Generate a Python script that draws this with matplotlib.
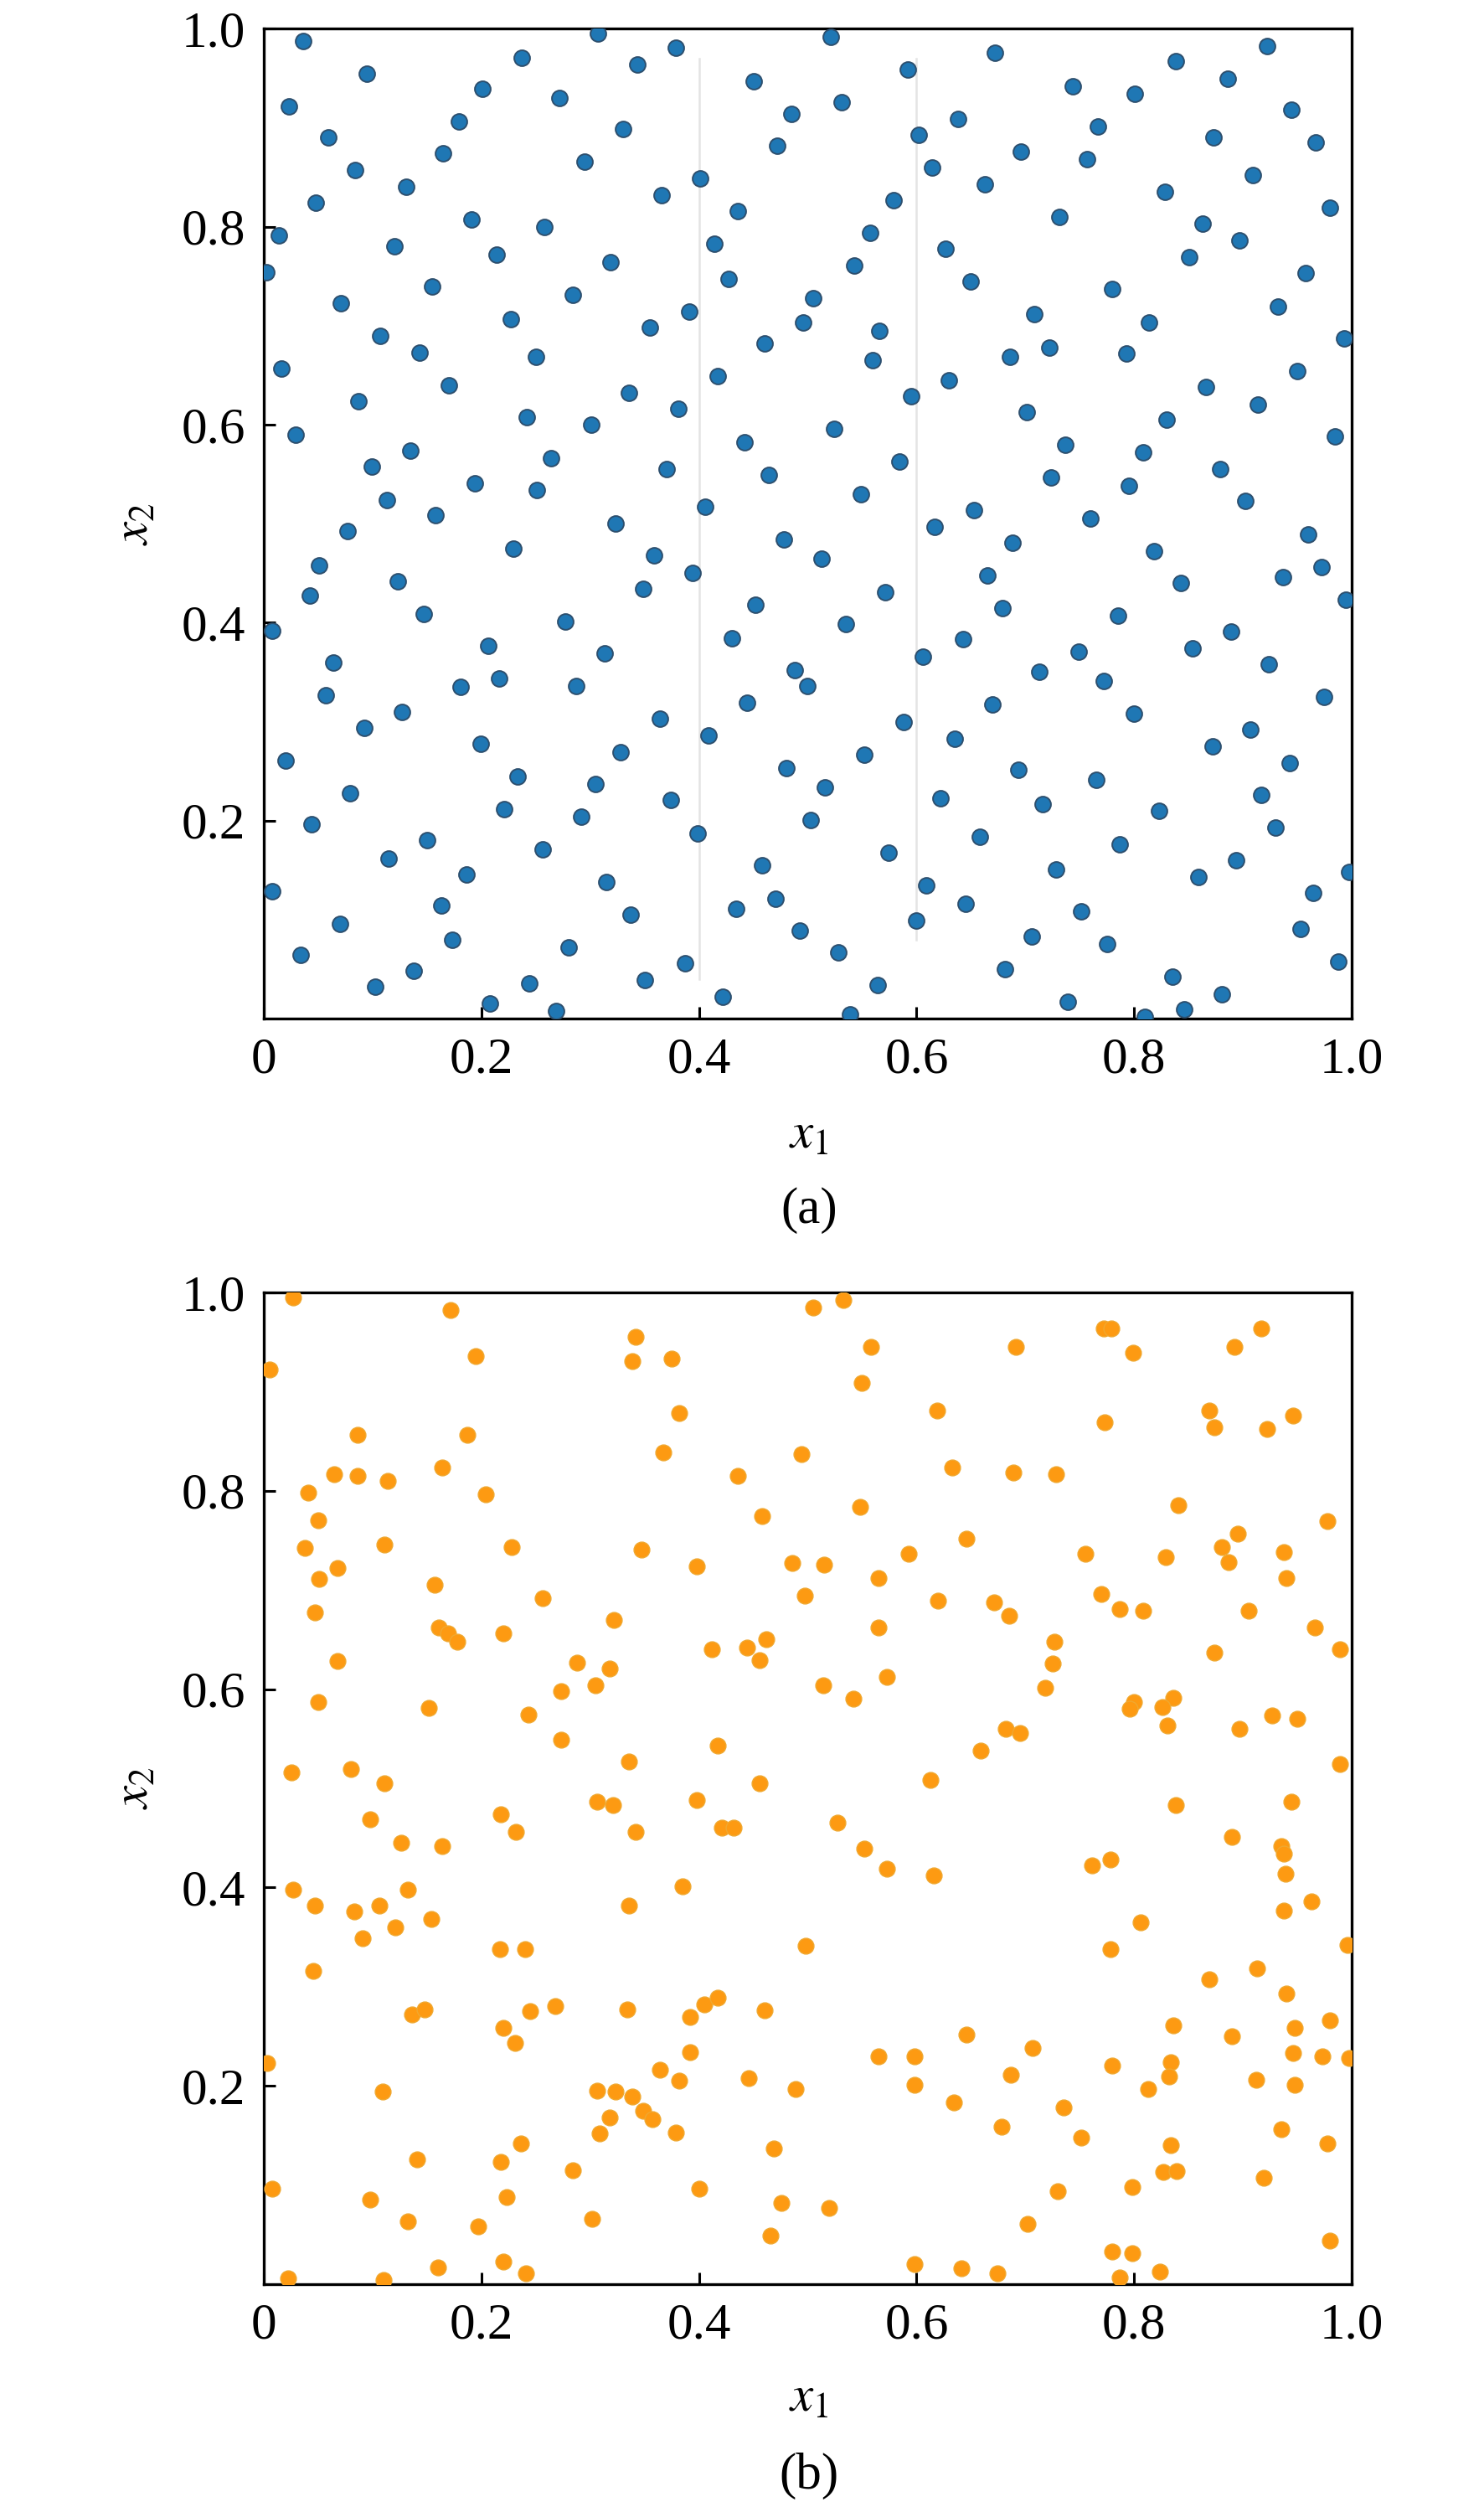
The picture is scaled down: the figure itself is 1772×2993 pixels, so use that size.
import numpy as np
import matplotlib.pyplot as plt

# === Point sets (x1, x2) ===
# (a) low-discrepancy sample
pts_a = [
    (0.036, 0.988), (0.095, 0.955), (0.023, 0.922), (0.059, 0.890), (0.084, 0.857), (0.048, 0.824),
    (0.014, 0.791), (0.002, 0.754), (0.120, 0.780), (0.131, 0.840), (0.165, 0.874), (0.179, 0.906),
    (0.201, 0.939), (0.237, 0.971), (0.307, 0.995), (0.272, 0.930), (0.343, 0.964), (0.379, 0.981),
    (0.330, 0.899), (0.295, 0.866), (0.191, 0.807), (0.258, 0.800), (0.214, 0.772), (0.319, 0.764),
    (0.155, 0.740), (0.071, 0.723), (0.284, 0.731), (0.227, 0.707), (0.355, 0.698), (0.391, 0.714),
    (0.107, 0.690), (0.143, 0.673), (0.250, 0.669), (0.401, 0.849), (0.366, 0.832), (0.450, 0.947),
    (0.485, 0.914), (0.472, 0.882), (0.436, 0.816), (0.414, 0.783), (0.427, 0.747), (0.505, 0.728),
    (0.496, 0.703), (0.460, 0.682),
    (0.521, 0.992), (0.592, 0.959), (0.531, 0.926), (0.602, 0.893), (0.614, 0.860), (0.579, 0.827),
    (0.557, 0.794), (0.543, 0.761), (0.566, 0.695), (0.560, 0.665), (0.672, 0.976), (0.638, 0.909),
    (0.696, 0.876), (0.744, 0.942), (0.801, 0.934), (0.838, 0.967), (0.922, 0.983), (0.886, 0.950),
    (0.945, 0.918), (0.873, 0.890), (0.967, 0.885), (0.767, 0.901), (0.757, 0.868), (0.663, 0.843),
    (0.909, 0.852), (0.828, 0.835), (0.731, 0.810), (0.980, 0.819), (0.863, 0.803), (0.897, 0.786),
    (0.627, 0.778), (0.851, 0.769), (0.650, 0.745), (0.780, 0.737), (0.958, 0.753), (0.932, 0.719),
    (0.708, 0.712), (0.814, 0.703), (0.993, 0.687), (0.722, 0.678), (0.793, 0.672), (0.686, 0.669),
    (0.016, 0.657), (0.170, 0.640), (0.087, 0.624), (0.029, 0.590), (0.242, 0.608), (0.301, 0.600),
    (0.336, 0.632), (0.381, 0.616), (0.417, 0.649), (0.135, 0.574), (0.099, 0.558), (0.264, 0.566),
    (0.194, 0.541), (0.251, 0.534), (0.370, 0.555), (0.442, 0.582), (0.464, 0.549), (0.113, 0.524),
    (0.158, 0.509), (0.077, 0.493), (0.406, 0.517), (0.323, 0.500), (0.229, 0.475), (0.359, 0.468),
    (0.478, 0.484), (0.051, 0.458), (0.123, 0.442), (0.394, 0.450), (0.349, 0.434), (0.042, 0.427),
    (0.147, 0.409), (0.452, 0.418), (0.277, 0.401), (0.008, 0.392), (0.206, 0.377), (0.313, 0.369),
    (0.430, 0.384), (0.064, 0.360), (0.488, 0.352), (0.500, 0.336), (0.216, 0.344), (0.181, 0.335),
    (0.287, 0.336),
    (0.630, 0.645), (0.595, 0.629), (0.866, 0.638), (0.950, 0.654), (0.914, 0.620), (0.701, 0.613),
    (0.830, 0.605), (0.524, 0.596), (0.985, 0.588), (0.737, 0.580), (0.808, 0.572), (0.584, 0.563),
    (0.879, 0.555), (0.724, 0.547), (0.795, 0.538), (0.549, 0.530), (0.902, 0.523), (0.653, 0.514),
    (0.617, 0.497), (0.760, 0.505), (0.960, 0.489), (0.688, 0.481), (0.818, 0.472), (0.513, 0.465),
    (0.972, 0.456), (0.937, 0.446), (0.665, 0.448), (0.843, 0.440), (0.571, 0.431), (0.995, 0.423),
    (0.679, 0.415), (0.785, 0.407), (0.535, 0.399), (0.889, 0.391), (0.643, 0.383), (0.749, 0.371),
    (0.854, 0.374), (0.606, 0.366), (0.924, 0.358), (0.713, 0.350), (0.772, 0.341),
    (0.057, 0.327), (0.127, 0.310), (0.092, 0.294), (0.020, 0.261), (0.199, 0.278), (0.364, 0.303),
    (0.444, 0.319), (0.409, 0.286), (0.328, 0.269), (0.233, 0.245), (0.305, 0.237), (0.480, 0.253),
    (0.079, 0.228), (0.374, 0.221), (0.221, 0.212), (0.292, 0.204), (0.044, 0.196), (0.399, 0.187),
    (0.503, 0.201), (0.150, 0.180), (0.256, 0.171), (0.115, 0.162), (0.186, 0.146), (0.458, 0.155),
    (0.008, 0.129), (0.315, 0.138), (0.163, 0.114), (0.470, 0.121), (0.434, 0.111), (0.337, 0.105),
    (0.070, 0.096), (0.493, 0.089), (0.173, 0.080), (0.280, 0.072), (0.034, 0.064), (0.387, 0.056),
    (0.138, 0.048), (0.244, 0.036), (0.350, 0.039), (0.102, 0.032), (0.422, 0.022), (0.208, 0.015),
    (0.269, 0.008),
    (0.975, 0.325), (0.670, 0.317), (0.800, 0.308), (0.588, 0.300), (0.635, 0.283), (0.907, 0.292),
    (0.872, 0.275), (0.552, 0.267), (0.943, 0.258), (0.694, 0.251), (0.765, 0.241), (0.516, 0.234),
    (0.622, 0.223), (0.716, 0.217), (0.917, 0.226), (0.823, 0.210), (0.658, 0.184), (0.930, 0.193),
    (0.787, 0.176), (0.574, 0.168), (0.894, 0.160), (0.728, 0.151), (0.859, 0.143), (0.998, 0.148),
    (0.609, 0.135), (0.965, 0.127), (0.645, 0.116), (0.751, 0.108), (0.600, 0.099), (0.953, 0.091),
    (0.706, 0.083), (0.775, 0.075), (0.528, 0.067), (0.988, 0.058), (0.681, 0.050), (0.835, 0.042),
    (0.564, 0.034), (0.881, 0.025), (0.739, 0.017), (0.846, 0.009), (0.539, 0.004), (0.810, 0.002),
]

# (b) plain random sample
pts_b = [
    (0.027, 0.995), (0.172, 0.982), (0.005, 0.922), (0.195, 0.936), (0.342, 0.955), (0.339, 0.931),
    (0.375, 0.933), (0.505, 0.985), (0.382, 0.878), (0.086, 0.856), (0.187, 0.856), (0.367, 0.839),
    (0.494, 0.837), (0.065, 0.817), (0.086, 0.815), (0.114, 0.810), (0.164, 0.823), (0.436, 0.815),
    (0.041, 0.798), (0.204, 0.796), (0.458, 0.774), (0.050, 0.770), (0.038, 0.742), (0.111, 0.746),
    (0.228, 0.743), (0.347, 0.741), (0.398, 0.724), (0.486, 0.727), (0.068, 0.722), (0.051, 0.711),
    (0.157, 0.705), (0.256, 0.692), (0.497, 0.694), (0.047, 0.677), (0.322, 0.670),
    (0.533, 0.992), (0.772, 0.964), (0.779, 0.964), (0.917, 0.964), (0.558, 0.945), (0.691, 0.945),
    (0.799, 0.939), (0.892, 0.945), (0.550, 0.909), (0.619, 0.881), (0.773, 0.869), (0.869, 0.881),
    (0.874, 0.864), (0.922, 0.862), (0.946, 0.876), (0.633, 0.823), (0.689, 0.818), (0.728, 0.817),
    (0.548, 0.784), (0.841, 0.785), (0.978, 0.769), (0.646, 0.752), (0.895, 0.757), (0.593, 0.736),
    (0.755, 0.736), (0.829, 0.733), (0.881, 0.743), (0.887, 0.728), (0.938, 0.738), (0.515, 0.725),
    (0.565, 0.712), (0.940, 0.712), (0.620, 0.689), (0.671, 0.687), (0.770, 0.696), (0.787, 0.681),
    (0.808, 0.679), (0.905, 0.679), (0.685, 0.674),
    (0.161, 0.662), (0.169, 0.656), (0.178, 0.648), (0.220, 0.656), (0.068, 0.628), (0.288, 0.627),
    (0.318, 0.621), (0.412, 0.640), (0.444, 0.642), (0.462, 0.650), (0.456, 0.629), (0.273, 0.598),
    (0.305, 0.604), (0.050, 0.587), (0.152, 0.581), (0.243, 0.574), (0.273, 0.549), (0.417, 0.543),
    (0.336, 0.527), (0.025, 0.516), (0.080, 0.519), (0.111, 0.505), (0.456, 0.505), (0.306, 0.486),
    (0.321, 0.483), (0.398, 0.488), (0.218, 0.474), (0.098, 0.469), (0.421, 0.460), (0.432, 0.460),
    (0.232, 0.456), (0.342, 0.456), (0.126, 0.445), (0.164, 0.442), (0.027, 0.398), (0.132, 0.398),
    (0.385, 0.401), (0.047, 0.382), (0.083, 0.376), (0.106, 0.382), (0.336, 0.382), (0.154, 0.368),
    (0.121, 0.360), (0.091, 0.349), (0.217, 0.338), (0.240, 0.338), (0.498, 0.341),
    (0.565, 0.662), (0.727, 0.648), (0.725, 0.626), (0.966, 0.662), (0.874, 0.637), (0.989, 0.640),
    (0.514, 0.604), (0.573, 0.612), (0.542, 0.590), (0.718, 0.601), (0.800, 0.587), (0.796, 0.580),
    (0.836, 0.591), (0.826, 0.582), (0.831, 0.563), (0.897, 0.560), (0.927, 0.573), (0.950, 0.570),
    (0.682, 0.560), (0.695, 0.556), (0.659, 0.538), (0.989, 0.524), (0.613, 0.508), (0.838, 0.483),
    (0.945, 0.486), (0.527, 0.465), (0.890, 0.451), (0.935, 0.442), (0.938, 0.434), (0.552, 0.439),
    (0.573, 0.419), (0.616, 0.412), (0.761, 0.422), (0.778, 0.428), (0.939, 0.414), (0.963, 0.386),
    (0.938, 0.377), (0.806, 0.365), (0.778, 0.338), (0.996, 0.342),
    (0.045, 0.316), (0.136, 0.272), (0.148, 0.277), (0.245, 0.275), (0.268, 0.280), (0.220, 0.258),
    (0.231, 0.243), (0.334, 0.277), (0.392, 0.269), (0.405, 0.282), (0.417, 0.289), (0.460, 0.276),
    (0.392, 0.234), (0.364, 0.216), (0.382, 0.205), (0.446, 0.208), (0.489, 0.197), (0.003, 0.223),
    (0.109, 0.194), (0.306, 0.195), (0.323, 0.194), (0.339, 0.189), (0.349, 0.175), (0.357, 0.166),
    (0.318, 0.168), (0.309, 0.152), (0.379, 0.153), (0.236, 0.142), (0.141, 0.126), (0.218, 0.123),
    (0.284, 0.115), (0.469, 0.137), (0.008, 0.096), (0.098, 0.085), (0.223, 0.088), (0.400, 0.096),
    (0.476, 0.082), (0.132, 0.063), (0.197, 0.058), (0.302, 0.066), (0.466, 0.049), (0.160, 0.017),
    (0.220, 0.023), (0.241, 0.011), (0.022, 0.006), (0.110, 0.004),
    (0.913, 0.318), (0.869, 0.307), (0.940, 0.293), (0.980, 0.266), (0.836, 0.261), (0.890, 0.250),
    (0.948, 0.258), (0.646, 0.252), (0.707, 0.238), (0.565, 0.230), (0.598, 0.230), (0.946, 0.233),
    (0.973, 0.230), (0.998, 0.228), (0.780, 0.220), (0.834, 0.224), (0.832, 0.209), (0.813, 0.197),
    (0.687, 0.211), (0.598, 0.201), (0.912, 0.206), (0.948, 0.201), (0.634, 0.183), (0.735, 0.178),
    (0.678, 0.159), (0.751, 0.148), (0.935, 0.156), (0.978, 0.142), (0.834, 0.140), (0.827, 0.113),
    (0.839, 0.114), (0.919, 0.107), (0.798, 0.098), (0.730, 0.094), (0.520, 0.077), (0.702, 0.061),
    (0.980, 0.044), (0.780, 0.033), (0.798, 0.031), (0.598, 0.020), (0.641, 0.016), (0.674, 0.011),
    (0.824, 0.013), (0.787, 0.007),
]

x_ticks = [0, 0.2, 0.4, 0.6, 0.8, 1.0]
x_ticklabels = ["0", "0.2", "0.4", "0.6", "0.8", "1.0"]
y_ticks = [0.2, 0.4, 0.6, 0.8, 1.0]
y_ticklabels = ["0.2", "0.4", "0.6", "0.8", "1.0"]
panel_tags = ["(a)", "(b)"]

plt.rcParams['font.family'] = ['Liberation Serif', 'DejaVu Serif']
plt.rcParams['mathtext.fontset'] = 'stix'

fig = plt.figure(figsize=(8.86, 14.965), dpi=200)

# axes boxes in figure fraction: [left, bottom, width, height]
boxes = [[0.1778, 0.5937, 0.7330, 0.3948],
         [0.1778, 0.0889, 0.7330, 0.3956]]
styles = [dict(c='#1f77b4', edgecolors='#2d4f6e', linewidths=0.7),
          dict(c='#fd9a12', edgecolors='#f0a830', linewidths=0.5)]
xlabel_y = [0.547, 0.0431]
tag_y = [0.5172, 0.0124]

for i, pts in enumerate([pts_a, pts_b]):
    arr = np.array(pts)
    ax = fig.add_axes(boxes[i])
    if i == 0:
        # faint vertical streaks visible in the reference scan
        ax.axvline(0.4, ymin=0.04, ymax=0.97, color='#e4e4e4', lw=0.9, zorder=0)
        ax.axvline(0.6, ymin=0.08, ymax=0.97, color='#e4e4e4', lw=0.9, zorder=0)
    ax.scatter(arr[:, 0], arr[:, 1], s=46, zorder=3, **styles[i])
    ax.set_xlim(0, 1)
    ax.set_ylim(0, 1)
    ax.set_xticks(x_ticks)
    ax.set_xticklabels(x_ticklabels)
    ax.set_yticks(y_ticks)
    ax.set_yticklabels(y_ticklabels)
    ax.tick_params(direction='in', length=5, width=1.1, labelsize=22, pad=8,
                   top=False, right=False)
    for sp in ax.spines.values():
        sp.set_linewidth(1.2)
    ax.text(-0.118, 0.5, r'$x_2$', rotation=90, ha='center', va='center',
            fontsize=22, transform=ax.transAxes)
    fig.text(0.5453, xlabel_y[i], r'$x_1$', ha='center', va='center', fontsize=22)
    fig.text(0.5453, tag_y[i], panel_tags[i], ha='center', va='center', fontsize=22)

fig.savefig('out.png', dpi=200)
